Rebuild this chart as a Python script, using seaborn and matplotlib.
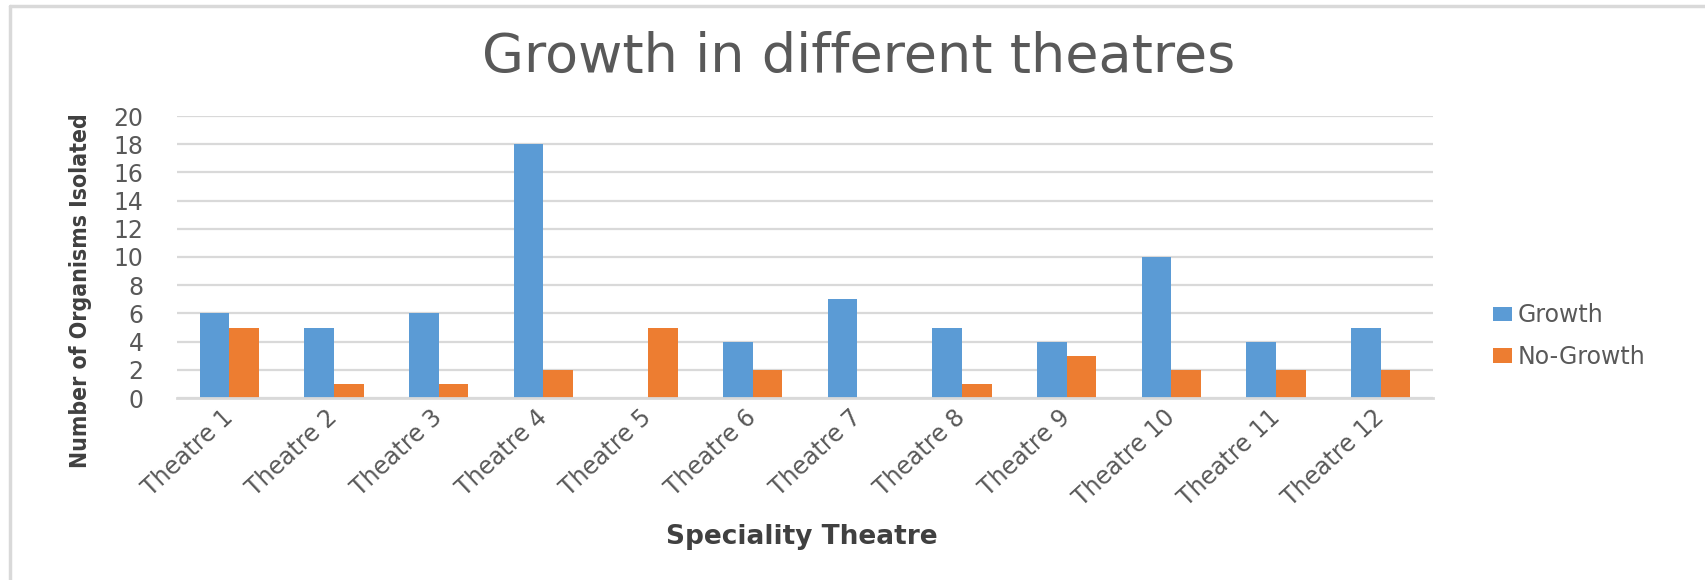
import matplotlib
matplotlib.use("Agg")
import matplotlib.pyplot as plt
import matplotlib.transforms as mtransforms
from matplotlib.patches import Patch
from matplotlib.lines import Line2D
import pandas as pd
import seaborn as sns

# Organisms isolated per speciality theatre
theatres = ["Theatre 1", "Theatre 2", "Theatre 3", "Theatre 4", "Theatre 5", "Theatre 6",
            "Theatre 7", "Theatre 8", "Theatre 9", "Theatre 10", "Theatre 11", "Theatre 12"]
growth = [6, 5, 6, 18, 0, 4, 7, 5, 4, 10, 4, 5]
no_growth = [5, 1, 1, 2, 5, 2, 0, 1, 3, 2, 2, 2]
series_names = ["Growth", "No-Growth"]
y_ticks = [0, 2, 4, 6, 8, 10, 12, 14, 16, 18, 20]

df = pd.DataFrame({
    "Theatre": theatres * 2,
    "Count": growth + no_growth,
    "Result": [series_names[0]] * len(theatres) + [series_names[1]] * len(theatres),
})

BLUE = "#5B9BD5"
ORANGE = "#ED7D31"
TEXT = "#595959"
GRID = "#D9D9D9"

sns.set_theme(style="white")
plt.rcParams["font.family"] = ["DejaVu Sans"]

W, H = 1705, 580
fig = plt.figure(figsize=(W / 100, H / 100), dpi=100)
ax = fig.add_axes([177 / W, 1 - 398 / H, (1433 - 177) / W, (398 - 116) / H])

sns.barplot(data=df, x="Theatre", y="Count", hue="Result", order=theatres,
            hue_order=series_names, palette=[BLUE, ORANGE], width=0.57, gap=0,
            saturation=1, ax=ax, legend=False, linewidth=0)

ax.set_ylim(0, 20)
ax.set_xlim(-0.5, len(theatres) - 0.5)
ax.set_yticks(y_ticks)
ax.yaxis.grid(True, color=GRID, linewidth=1.6)
ax.set_axisbelow(True)
for side in ["top", "right", "left"]:
    ax.spines[side].set_visible(False)
ax.spines["bottom"].set_color(GRID)
ax.spines["bottom"].set_linewidth(2)
ax.tick_params(axis="y", length=0, pad=24, labelsize=17, labelcolor=TEXT)
ax.tick_params(axis="x", length=0, pad=5, labelsize=17, labelcolor=TEXT)
ax.set_xlabel("")
ax.set_ylabel("")

shift = mtransforms.ScaledTranslation(-8 / 100, 0, fig.dpi_scale_trans)
for lab in ax.get_xticklabels():
    lab.set_rotation(43)
    lab.set_ha("right")
    lab.set_va("top")
    lab.set_rotation_mode("anchor")
    lab.set_transform(lab.get_transform() + shift)

# Titles
fig.text(859 / W, 1 - 72 / H, "Growth in different theatres", ha="center", va="baseline",
         fontsize=39, color=TEXT)
fig.text(81 / W, 1 - 291 / H, "Number of Organisms Isolated", rotation=90, ha="center",
         va="center", fontsize=16.5, fontweight="bold", fontstretch="condensed",
         color="#404040", family="DejaVu Sans")
fig.text(802 / W, 1 - 544 / H, "Speciality Theatre", ha="center", va="baseline",
         fontsize=19, fontweight="bold", color="#404040")

# Legend
handles = [Patch(facecolor=BLUE, edgecolor="none"), Patch(facecolor=ORANGE, edgecolor="none")]
leg = fig.legend(handles, series_names, loc="center left",
                 bbox_to_anchor=(1472 / W, 1 - 336 / H), frameon=False,
                 fontsize=17, handlelength=0.8, handleheight=0.57,
                 handletextpad=0.25, labelspacing=0.75, labelcolor=TEXT)

# Chart frame (top and left edges)
fig.add_artist(Line2D([10 / W, 10 / W], [0, 1 - 6 / H], transform=fig.transFigure,
                      color=GRID, linewidth=2.5))
fig.add_artist(Line2D([10 / W, 1], [1 - 6 / H, 1 - 6 / H], transform=fig.transFigure,
                      color=GRID, linewidth=2.5))

fig.savefig("out.png", dpi=100, facecolor="white")
